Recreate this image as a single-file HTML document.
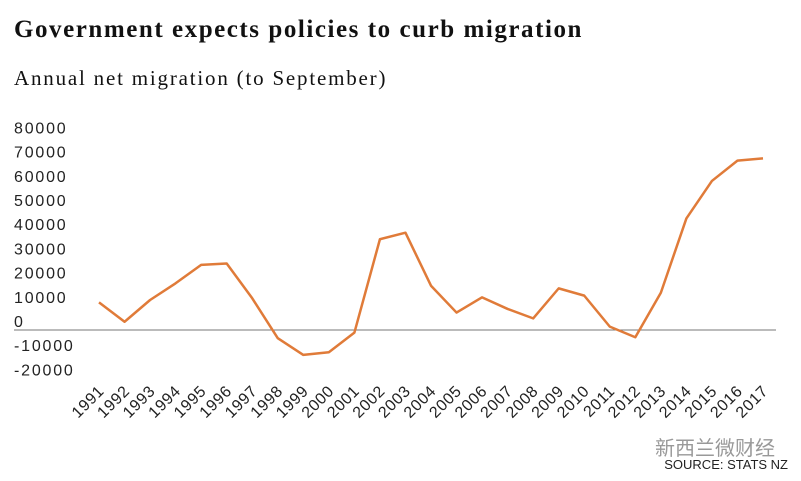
<!DOCTYPE html>
<html><head><meta charset="utf-8"><style>
body{margin:0;background:#fff;width:801px;height:481px;overflow:hidden;font-family:"Liberation Sans",sans-serif}
#t{position:absolute;left:14px;top:16px;font:bold 25px "Liberation Serif",serif;letter-spacing:1.55px;color:#111;margin:0}
#s{position:absolute;left:14px;top:66px;font:21px "Liberation Serif",serif;letter-spacing:1.8px;color:#111;margin:0}
svg{position:absolute;left:0;top:0}
</style></head><body>
<h1 id="t">Government expects policies to curb migration</h1>
<h2 id="s">Annual net migration (to September)</h2>
<svg id="c" width="801" height="481"></svg>
<script>
const years=[1991,1992,1993,1994,1995,1996,1997,1998,1999,2000,2001,2002,2003,2004,2005,2006,2007,2008,2009,2010,2011,2012,2013,2014,2015,2016,2017];
const values=[11400,3400,12400,19300,26900,27500,13100,-3400,-10300,-9200,-1100,37500,40200,18300,7200,13500,8700,4800,17200,14200,1400,-3000,15400,46100,61600,70000,70900];
const yTicks=[80000,70000,60000,50000,40000,30000,20000,10000,0,-10000,-20000];
const NS="http://www.w3.org/2000/svg",svg=document.getElementById('c');
const x=i=>99+i*(763-99)/(years.length-1);
const y=v=>330-v*0.00242;
function mk(t,a){const e=document.createElementNS(NS,t);for(const k in a)e.setAttribute(k,a[k]);svg.appendChild(e);return e;}
yTicks.forEach(v=>{const e=mk('text',{x:14,y:y(v)-3,'font-size':16,'letter-spacing':1.8,fill:'#222'});e.textContent=v;

});
const zl=mk('line',{x1:14,x2:776,y1:y(0),y2:y(0),stroke:'#777','stroke-width':1});


years.forEach((yr,i)=>{const e=mk('text',{x:x(i)+6,y:392,'font-size':16,'letter-spacing':0.6,fill:'#222','text-anchor':'end',transform:`rotate(-45 ${x(i)+6} 392)`});e.textContent=yr;

});
const ln=mk('polyline',{points:values.map((v,i)=>x(i)+','+y(v)).join(' '),fill:'none',stroke:'#e07b39','stroke-width':2.5,'stroke-linejoin':'round'});


const wm=mk('text',{x:655,y:455,'font-size':20,fill:'#999','font-family':'"Liberation Sans","Noto Sans CJK SC",sans-serif'});wm.textContent='新西兰微财经';


const src=mk('text',{x:788,y:469,'font-size':13,fill:'#222','text-anchor':'end'});src.textContent='SOURCE: STATS NZ';


</script>
</body></html>
